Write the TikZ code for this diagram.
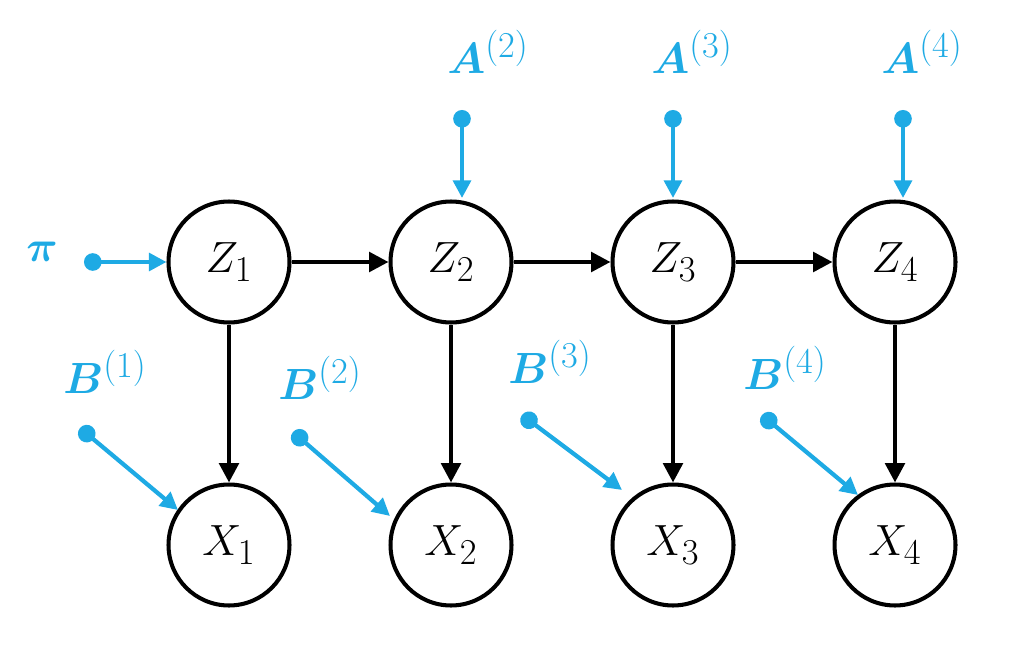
\documentclass[tikz,border=0pt]{standalone}
\usepackage{amsmath,bm}
\usetikzlibrary{arrows.meta}
\definecolor{cb}{RGB}{30,170,228}
\begin{document}
\begin{tikzpicture}[x=0.02cm,y=-0.02cm,
 st/.style={circle,draw=black,line width=2.3pt,minimum size=2.42cm,inner sep=0pt,font=\fontsize{28}{32}\selectfont},
 blk/.style={line width=2.4pt,-{Triangle[length=11pt,width=11pt]}},
 bl/.style={cb,line width=2.4pt,{Circle[length=10pt]}-{Triangle[length=10pt,width=10pt]}},
 lab/.style={cb,font=\fontsize{31}{36}\selectfont}]
\useasboundingbox (0,0) rectangle (1024,655);
\foreach \i/\x in {1/229,2/451,3/673,4/895}{
 \node[st] (z\i) at (\x,262) {$Z_{\i}$};
 \node[st] (x\i) at (\x,545) {$X_{\i}$};
 \draw[blk] (z\i) -- (x\i);
}
\foreach \a/\b in {1/2,2/3,3/4} \draw[blk] (z\a) -- (z\b);
\node[lab] (pi) at (42,252) {$\bm{\pi}$};
\coordinate (pd) at (84,262);
\draw[bl] (pd) -- (z1);
\foreach \i/\x/\tx in {2/462/488,3/673/692,4/903/922}{
 \node[lab] (a\i) at (\tx,52) {$\bm{A}^{\scriptstyle(\i)}$};
 \coordinate (ad\i) at (\x,110);
 \draw[bl] (ad\i) -- (\x,198);
}
\foreach \i/\tx/\ty/\dx/\dy/\ex/\ey in {1/105/372/80/428/178/510,2/320/378/293/432/390/516,3/550/362/522/415/622/490,4/785/368/762/415/858/495}{
 \node[lab] (b\i) at (\tx,\ty) {$\bm{B}^{\scriptstyle(\i)}$};
 \coordinate (bd\i) at (\dx,\dy);
 \draw[bl] (bd\i) -- (\ex,\ey);
}
\end{tikzpicture}
\end{document}
